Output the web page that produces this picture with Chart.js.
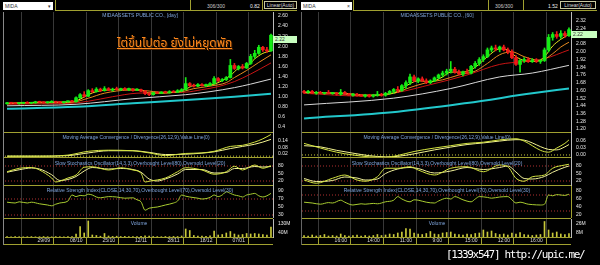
<!DOCTYPE html>
<html>
<head>
<meta charset="utf-8">
<script src="https://cdn.jsdelivr.net/npm/chart.js@4.4.0/dist/chart.umd.min.js"></script>
<style>
body { margin:0; background:#000; width:600px; height:265px; overflow:hidden; position:relative; font-family:'Liberation Sans', Arial, sans-serif; }
canvas { position:absolute; }
.ln { position:absolute; background:#a0a030; }
.t { position:absolute; white-space:nowrap; font-size:5px; line-height:6px; }
.ttl { position:absolute; white-space:nowrap; font-size:5px; line-height:6px; color:#7ea4dc; transform:translateX(-50%); }
.dd { position:absolute; top:2px; height:8px; background:#fff; color:#333; font-size:5px; line-height:8px; padding-left:2px; box-sizing:border-box; }
.box { position:absolute; top:1px; height:8px; border:1px solid #c8c8a0; color:#ddd; font-size:5px; line-height:7px; text-align:center; box-sizing:border-box; }
.px { position:absolute; background:#c8ffc0; color:#333; font-size:5px; line-height:6px; padding-left:2px; box-sizing:border-box; }
</style>
</head>
<body>

<!-- header left -->
<div class="dd" style="left:3px;width:50px">MIDA<span style="position:absolute;right:2px">&#9662;</span></div>
<div class="ln" style="left:55px;top:10px;width:242px;height:1px"></div>
<div class="ln" style="left:55px;top:0;width:1px;height:10px"></div>
<div class="ln" style="left:190px;top:0;width:1px;height:10px"></div>
<div class="ln" style="left:262px;top:0;width:1px;height:10px"></div>
<div class="t" style="left:207px;top:3px;color:#ccc">306/300</div>
<div class="t" style="left:250px;top:3px;color:#eee">0.82</div>
<div class="box" style="left:264px;width:33px">Linear(Auto)</div>

<!-- header right -->
<div class="dd" style="left:301px;width:51px">MIDA<span style="position:absolute;right:2px">&#215;</span></div>
<div class="ln" style="left:353px;top:10px;width:244px;height:1px"></div>
<div class="ln" style="left:353px;top:0;width:1px;height:10px"></div>
<div class="ln" style="left:488px;top:0;width:1px;height:10px"></div>
<div class="ln" style="left:523px;top:0;width:1px;height:10px"></div>
<div class="t" style="left:495px;top:3px;color:#ccc">306/300</div>
<div class="t" style="left:548px;top:3px;color:#eee">1.52</div>
<div class="box" style="left:560px;width:36px">Linear(Auto)</div>

<!-- left panel -->
<canvas id="mainL" width="292" height="120" style="left:5px;top:12px"></canvas>
<canvas id="macdL" width="292" height="26" style="left:5px;top:132px"></canvas>
<canvas id="stochL" width="292" height="28" style="left:5px;top:158px"></canvas>
<canvas id="rsiL" width="292" height="32" style="left:5px;top:186px"></canvas>
<canvas id="volL" width="292" height="26" style="left:5px;top:219px"></canvas>

<!-- right panel -->
<canvas id="mainR" width="295" height="120" style="left:302px;top:12px"></canvas>
<canvas id="macdR" width="295" height="26" style="left:302px;top:132px"></canvas>
<canvas id="stochR" width="295" height="28" style="left:302px;top:158px"></canvas>
<canvas id="rsiR" width="295" height="32" style="left:302px;top:186px"></canvas>
<canvas id="volR" width="295" height="26" style="left:302px;top:219px"></canvas>

<!-- panel separators -->
<div class="ln" style="left:3px;top:132px;width:270px;height:1px"></div>
<div class="ln" style="left:3px;top:157px;width:270px;height:1px"></div>
<div class="ln" style="left:3px;top:185px;width:270px;height:1px"></div>
<div class="ln" style="left:3px;top:218px;width:270px;height:1px"></div>
<div class="ln" style="left:3px;top:244px;width:270px;height:1px"></div>
<div class="ln" style="left:301px;top:132px;width:270px;height:1px"></div>
<div class="ln" style="left:301px;top:157px;width:270px;height:1px"></div>
<div class="ln" style="left:301px;top:185px;width:270px;height:1px"></div>
<div class="ln" style="left:301px;top:218px;width:270px;height:1px"></div>
<div class="ln" style="left:301px;top:244px;width:270px;height:1px"></div>
<div class="ln" style="left:571px;top:186px;width:1px;height:32px"></div>
<div style="position:absolute;left:3px;top:12px;width:1px;height:233px;background:#888"></div>
<div style="position:absolute;left:301px;top:12px;width:1px;height:233px;background:#666"></div>

<!-- titles -->
<div class="ttl" style="left:140px;top:12px">MIDAASSETS PUBLIC CO., [day]</div>
<div class="ttl" style="left:136px;top:134px">Moving Average Convergence / Divergence(26,12,9),Value Line(0)</div>
<div class="ttl" style="left:140px;top:160px">Slow Stochastics Oscillator(14,3,3),Overbought Level(80),Oversold Level(20)</div>
<div class="ttl" style="left:140px;top:187px">Relative Strength Index(CLOSE,14,30,70),Overbought Level(70),Oversold Level(30)</div>
<div class="ttl" style="left:139px;top:220px">Volume</div>
<div class="ttl" style="left:437px;top:12px">MIDAASSETS PUBLIC CO., [60]</div>
<div class="ttl" style="left:437px;top:134px">Moving Average Convergence / Divergence(26,12,9),Value Line(0)</div>
<div class="ttl" style="left:437px;top:160px">Slow Stochastics Oscillator(14,3,3),Overbought Level(80),Oversold Level(20)</div>
<div class="ttl" style="left:437px;top:187px">Relative Strength Index(CLOSE,14,30,70),Overbought Level(70),Oversold Level(30)</div>
<div class="ttl" style="left:437px;top:220px">Volume</div>

<div class="px" style="left:273px;top:36px;width:24px;height:7px">2.22</div>
<div class="px" style="left:571px;top:31px;width:26px;height:7px">2.22</div>

<div style="position:absolute;left:117px;top:35px;font-size:12px;line-height:16px;color:#ff8a1c;text-decoration:underline;text-shadow:1px 1px 0 #4a2000;white-space:nowrap;font-family:'Noto Sans Thai','Loma','Garuda','Tlwg Typist','DejaVu Sans',sans-serif">ไต่ขึ้นไปต่อ ยังไม่หยุดพัก</div>

<div style="position:absolute;left:446px;top:248px;font-size:11px;line-height:14px;color:#fff;letter-spacing:-1.3px;white-space:nowrap;font-family:'DejaVu Sans Mono',monospace">[1339x547] http://upic.me/</div>

<script>
// Daily candles (left)
var openL  = [0.86,0.88,0.87,0.86,0.87,0.88,0.87,0.88,0.90,0.89, 0.88,0.89,0.90,0.89,0.88,0.90,0.91,0.90,0.98,1.04, 1.01,1.12,1.10,1.15,1.12,1.16,1.13,1.15,1.14,1.16, 1.14,1.15,1.13,1.14,1.11,1.06,1.04,1.08,1.07,1.09, 1.08,1.10,1.09,1.12,1.14,1.26,1.22,1.21,1.24,1.22, 1.23,1.26,1.36,1.32,1.34,1.38,1.62,1.56,1.60,1.57, 1.66,1.80,1.86,1.98,1.93,1.91];
var highL  = [0.89,0.89,0.88,0.88,0.89,0.90,0.88,0.91,0.91,0.90, 0.90,0.92,0.91,0.90,0.91,0.92,0.93,1.00,1.06,1.10, 1.14,1.16,1.18,1.17,1.20,1.18,1.17,1.19,1.17,1.18, 1.17,1.16,1.16,1.15,1.12,1.08,1.09,1.10,1.10,1.11, 1.12,1.12,1.14,1.16,1.38,1.28,1.25,1.26,1.26,1.25, 1.28,1.40,1.38,1.36,1.40,1.74,1.66,1.62,1.64,1.68, 1.84,1.92,2.02,2.00,1.98,2.24];
var lowL   = [0.85,0.86,0.86,0.85,0.86,0.87,0.86,0.87,0.88,0.87, 0.87,0.88,0.88,0.87,0.87,0.89,0.89,0.89,0.96,0.99, 1.00,1.08,1.09,1.10,1.11,1.12,1.11,1.13,1.12,1.13, 1.12,1.11,1.12,1.10,1.04,1.02,1.03,1.06,1.06,1.07, 1.07,1.08,1.08,1.10,1.13,1.20,1.19,1.20,1.21,1.20, 1.22,1.25,1.30,1.30,1.32,1.37,1.54,1.53,1.55,1.56, 1.64,1.76,1.84,1.90,1.88,1.90];
var closeL = [0.88,0.87,0.86,0.87,0.88,0.87,0.88,0.90,0.89,0.88, 0.89,0.90,0.89,0.88,0.90,0.91,0.90,0.98,1.04,1.01, 1.12,1.10,1.15,1.12,1.16,1.13,1.15,1.14,1.16,1.14, 1.15,1.13,1.14,1.11,1.06,1.04,1.08,1.07,1.09,1.08, 1.10,1.09,1.12,1.14,1.26,1.22,1.21,1.24,1.22,1.23, 1.26,1.36,1.32,1.34,1.38,1.62,1.56,1.60,1.57,1.66, 1.80,1.86,1.98,1.93,1.91,2.22];
var volL   = [3,2,4,3,2,3,4,2,3,5, 3,2,4,3,2,4,3,30,103,40, 160,20,15,8,35,10,6,8,5,6, 4,5,4,6,12,8,5,4,3,5, 4,6,5,10,80,65,15,8,10,6, 12,60,20,25,40,55,30,20,25,35, 30,35,30,25,20,100];

// Daily averages / indicators, [candle index, value]
var maYellowL = [[0,0.87],[8,0.89],[16,0.90],[18,0.95],[20,1.04],[22,1.10],[26,1.14],[30,1.15],[33,1.13],[35,1.07],[38,1.07],[42,1.10],[44,1.15],[46,1.22],[50,1.23],[53,1.32],[55,1.42],[57,1.56],[59,1.60],[61,1.75],[63,1.86],[65,1.91]];
var maOrangeL = [[0,0.86],[8,0.88],[16,0.89],[20,0.97],[24,1.07],[30,1.13],[34,1.12],[38,1.09],[42,1.09],[46,1.16],[50,1.21],[54,1.28],[56,1.38],[59,1.52],[62,1.68],[65,1.83]];
var maRedL    = [[0,0.85],[10,0.86],[16,0.87],[20,0.91],[26,1.00],[32,1.07],[38,1.08],[44,1.09],[48,1.14],[52,1.20],[56,1.30],[60,1.45],[65,1.67]];
var maWhiteL  = [[0,0.82],[17,0.85],[31,0.96],[44,1.04],[50,1.10],[56,1.18],[60,1.25],[65,1.35]];
var maCyanL   = [[0,0.76],[17,0.80],[31,0.87],[47,0.95],[56,1.00],[65,1.06]];
var macdL   = [[0,0.0],[8,0.0],[15,0.01],[20,0.045],[25,0.055],[31,0.05],[35,0.03],[39,0.005],[44,0.025],[48,0.03],[51,0.045],[55,0.09],[58,0.10],[61,0.13],[63,0.16],[65,0.20]];
var signalL = [[0,0.0],[8,0.0],[15,0.005],[20,0.03],[25,0.05],[31,0.05],[35,0.035],[39,0.015],[44,0.018],[48,0.028],[51,0.04],[55,0.07],[58,0.09],[61,0.11],[63,0.13],[65,0.155]];
var stochKL = [[0,57],[3,71],[6,74],[8,64],[11,32],[12,16],[15,32],[17,44],[19,75],[21,77],[25,64],[28,73],[31,64],[33,51],[34,16],[35,19],[39,32],[42,57],[44,73],[48,64],[51,47],[54,57],[56,79],[58,64],[61,84],[63,71],[65,81]];
var stochDL = [[0,55],[3,65],[6,72],[8,68],[11,45],[13,22],[15,26],[17,38],[19,60],[21,74],[25,68],[28,70],[31,66],[33,55],[35,28],[37,20],[39,28],[42,48],[44,66],[48,66],[51,52],[54,54],[56,70],[58,70],[61,78],[63,76],[65,78]];
var rsiL = [[0,62],[2,60],[3,63],[5,60],[6,62],[8,58],[10,55],[11,53],[12,57],[13,60],[15,65],[16,80],[17,76],[18,79],[19,78],[20,82],[21,80],[22,75],[23,73],[25,76],[27,75],[29,72],[31,73],[32,68],[33,63],[34,42],[35,47],[37,50],[39,55],[41,60],[42,65],[43,80],[44,77],[45,75],[47,72],[48,70],[50,74],[51,80],[52,76],[53,80],[54,88],[55,84],[56,80],[57,78],[58,75],[59,80],[60,82],[61,84],[62,78],[63,75],[64,78],[65,84]];

// 60 minute candles (right)
var openR  = [1.59,1.58,1.59,1.57,1.58,1.57,1.58,1.57,1.57,1.56, 1.58,1.56,1.55,1.56,1.55,1.54,1.55,1.54,1.55,1.56, 1.55,1.57,1.59,1.61,1.60,1.65,1.68,1.74,1.70,1.72, 1.70,1.68,1.70,1.73,1.76,1.78,1.80,1.82,1.79,1.77, 1.79,1.78,1.85,1.88,1.92,1.95,2.02,2.04,2.03,2.05, 2.02,2.00,1.94,1.87,1.91,1.92,1.90,1.91,1.90,1.91, 2.02,2.15,2.18,2.16,2.19,2.17];
var highR  = [1.60,1.60,1.60,1.59,1.59,1.58,1.60,1.58,1.58,1.61, 1.59,1.57,1.57,1.57,1.56,1.56,1.56,1.56,1.59,1.57, 1.58,1.60,1.62,1.64,1.66,1.70,1.77,1.76,1.73,1.74, 1.72,1.71,1.74,1.77,1.80,1.82,1.90,1.84,1.81,1.80, 1.82,1.86,1.90,1.94,1.97,2.04,2.06,2.07,2.06,2.07, 2.04,2.02,1.96,1.92,1.94,1.94,1.93,1.93,1.92,2.04, 2.18,2.20,2.21,2.22,2.21,2.25];
var lowR   = [1.57,1.57,1.57,1.56,1.57,1.56,1.57,1.56,1.55,1.55, 1.56,1.55,1.54,1.54,1.54,1.53,1.53,1.53,1.54,1.54, 1.54,1.56,1.57,1.58,1.59,1.62,1.66,1.69,1.68,1.69, 1.67,1.67,1.69,1.72,1.74,1.76,1.78,1.78,1.76,1.75, 1.77,1.77,1.83,1.86,1.90,1.94,2.00,2.01,2.00,2.01, 1.98,1.93,1.86,1.79,1.89,1.89,1.89,1.89,1.88,1.90, 2.00,2.12,2.14,2.14,2.15,2.16];
var closeR = [1.58,1.59,1.57,1.58,1.57,1.58,1.57,1.57,1.56,1.58, 1.56,1.55,1.56,1.55,1.54,1.55,1.54,1.55,1.56,1.55, 1.57,1.59,1.61,1.60,1.65,1.68,1.74,1.70,1.72,1.70, 1.68,1.70,1.73,1.76,1.78,1.80,1.82,1.79,1.77,1.79, 1.78,1.85,1.88,1.92,1.95,2.02,2.04,2.03,2.05,2.02, 2.00,1.94,1.87,1.91,1.92,1.90,1.91,1.90,1.91,2.02, 2.15,2.18,2.16,2.19,2.17,2.23];
var volR   = [3,2,4,2,3,5,2,3,2,6, 3,2,3,4,2,3,2,3,5,3, 4,6,5,8,10,17,16,8,6,5, 7,11,6,5,8,9,10,6,5,4, 6,5,7,8,14,10,12,7,5,6, 4,8,6,9,5,4,3,4,5,31, 14,8,10,6,5,7];

var maYellowR = [[0,1.58],[8,1.57],[14,1.55],[20,1.56],[23,1.59],[26,1.67],[28,1.70],[31,1.69],[34,1.74],[36,1.79],[39,1.79],[42,1.84],[45,1.95],[48,2.03],[50,2.02],[52,1.95],[54,1.91],[57,1.90],[59,1.95],[61,2.06],[63,2.13],[65,2.18]];
var maOrangeR = [[0,1.58],[10,1.57],[16,1.55],[22,1.57],[26,1.63],[30,1.68],[34,1.71],[38,1.76],[42,1.80],[45,1.88],[48,1.97],[51,2.00],[54,1.95],[58,1.91],[61,1.98],[63,2.05],[65,2.10]];
var maRedR    = [[0,1.57],[15,1.54],[23,1.58],[31,1.66],[40,1.76],[48,1.87],[54,1.90],[59,1.93],[65,2.02]];
var maWhiteR  = [[0,1.45],[22,1.52],[36,1.62],[48,1.74],[56,1.78],[65,1.86]];
var maCyanR   = [[0,1.31],[23,1.38],[40,1.47],[56,1.57],[65,1.62]];
var macdR   = [[0,0.05],[4,0.03],[8,0.012],[12,0.0],[16,-0.008],[20,-0.01],[23,-0.002],[27,0.015],[32,0.03],[36,0.04],[40,0.05],[44,0.055],[48,0.065],[52,0.07],[54,0.06],[56,0.04],[58,0.02],[60,0.012],[62,0.03],[64,0.05],[65,0.065]];
var signalR = [[0,0.04],[4,0.035],[8,0.02],[12,0.008],[16,-0.003],[20,-0.008],[23,-0.006],[27,0.005],[32,0.022],[36,0.034],[40,0.045],[44,0.052],[48,0.06],[52,0.066],[54,0.064],[56,0.052],[58,0.036],[60,0.024],[62,0.022],[64,0.035],[65,0.045]];
var stochKR = [[0,24],[3,11],[7,31],[10,44],[13,24],[15,19],[18,37],[20,71],[23,71],[26,77],[28,64],[32,44],[36,71],[40,77],[44,57],[48,84],[50,77],[52,31],[54,19],[56,37],[59,44],[61,71],[64,84],[65,87]];
var stochDR = [[0,30],[3,18],[7,22],[10,36],[13,32],[15,24],[18,28],[20,50],[23,68],[26,74],[28,70],[32,52],[36,60],[40,74],[44,66],[48,74],[50,80],[52,56],[54,30],[56,28],[59,38],[61,55],[64,75],[65,80]];
var rsiR = [[0,52],[2,50],[4,47],[6,51],[7,50],[9,57],[10,52],[12,45],[14,48],[15,47],[17,49],[18,48],[20,53],[22,57],[23,66],[24,60],[26,53],[27,58],[28,57],[30,52],[32,50],[33,55],[35,62],[36,60],[37,66],[39,58],[41,53],[42,60],[43,66],[45,64],[46,62],[48,65],[50,66],[51,58],[52,50],[53,52],[55,47],[56,46],[58,45],[59,47],[60,70],[61,68],[62,71],[63,70],[64,69],[65,72]];

// Axes
var gridPos = [7.5, 15.5, 23.5, 31.5, 39.5, 47.5, 55.5, 63.5];
var datesL = ['29/09', '08/10', '25/10', '12/11', '28/11', '18/12', '07/01', ''];
var timesR = ['16:00', '14:00', '11:00', '9:00', '15:00', '12:00', '16:00', ''];
var priceTicksL = [2.6, 2.4, 2.2, 2.0, 1.8, 1.6, 1.4, 1.2, 1.0, 0.8, 0.6, 0.4];
var priceLabelsL = ['2.60', '2.40', '2.20', '2.00', '1.80', '1.60', '1.40', '1.20', '1.00', '0.80', '0.6', '0.4'];
var priceTicksR = [2.32, 2.24, 2.16, 2.08, 2.00, 1.92, 1.84, 1.76, 1.68, 1.60, 1.52, 1.44, 1.36, 1.28, 1.20];
var priceLabelsR = ['2.32', '2.24', '2.16', '2.08', '2.00', '1.92', '1.84', '1.76', '1.68', '1.60', '1.52', '1.44', '1.36', '1.28', '1.20'];
var macdTicksL = [0.14, 0.08, 0.02], macdLabelsL = ['0.14', '0.08', '0.02'];
var macdTicksR = [0.06, 0.03, 0.00], macdLabelsR = ['0.06', '0.03', '0.00'];
var stochTicks = [80, 50, 20], stochLabels = ['80', '50', '20'];
var rsiTicksL = [90, 70, 50, 30], rsiLabelsL = ['90', '70', '50', '30'];
var rsiTicksR = [80, 60, 40, 20], rsiLabelsR = ['80', '60', '40', '20'];
var volTicksL = [130, 40], volLabelsL = ['130M', '40M'];
var volTicksR = [26, 8], volLabelsR = ['26M', '8M'];
var stochLevels = [80, 20], rsiLevels = [70, 30];

var xMin = -0.5, xMax = closeL.length - 0.5;
var olive = '#a0a030';

function xAxis(labels) {
  var show = !!labels;
  return {
    type: 'linear', min: xMin, max: xMax, offset: false,
    afterBuildTicks: function (s) { s.ticks = gridPos.map(function (v) { return { value: v }; }); },
    afterFit: function (s) { s.height = show ? 8 : 0; s.paddingLeft = 0; s.paddingRight = 0; },
    grid: { color: '#383838', drawTicks: show, tickLength: 8, tickColor: olive },
    border: { display: show, color: olive },
    ticks: { display: show, align: 'start', padding: -7, autoSkip: false, maxRotation: 0, color: '#d8d8d8', font: { size: 5 },
      callback: function (v, i) { return labels ? labels[i] : ''; } }
  };
}

function yAxis(min, max, vals, labels, w) {
  return {
    position: 'right', min: min, max: max,
    afterBuildTicks: function (s) { s.ticks = vals.map(function (v) { return { value: v }; }); },
    afterFit: function (s) { s.width = w; s.paddingTop = 0; s.paddingBottom = 0; },
    grid: { display: false, drawTicks: false },
    border: { display: true, color: '#bbbbbb', dash: [1, 2] },
    ticks: { padding: 5, autoSkip: false, color: '#e8e8e8', font: { size: 5 },
      callback: function (v, i) { return labels[i]; } }
  };
}

function candleSets(o, h, l, c) {
  var cols = c.map(function (v, i) { return v >= o[i] ? '#14ec14' : '#f01818'; });
  return [
    { data: o.map(function (v, i) { return { x: i, y: [v, c[i]] }; }), backgroundColor: cols, barThickness: 3, minBarLength: 1, grouped: false },
    { data: l.map(function (v, i) { return { x: i, y: [v, h[i]] }; }), backgroundColor: cols, barThickness: 1, minBarLength: 1, grouped: false }
  ];
}

function lineSet(pts, color, w) {
  return { type: 'line', data: pts.map(function (p) { return { x: p[0], y: p[1] }; }),
    borderColor: color, borderWidth: w || 1, pointRadius: 0, cubicInterpolationMode: 'monotone' };
}

function levelSet(v, color) {
  return { type: 'line', data: [{ x: xMin, y: v }, { x: xMax, y: v }], borderColor: color, borderWidth: 1, borderDash: [1, 2], pointRadius: 0 };
}

function volSet(v) {
  return { data: v.map(function (y, i) { return { x: i, y: y }; }), backgroundColor: '#c8c83a', barThickness: 1, grouped: false };
}

function panel(id, datasets, y, dates) {
  return new Chart(document.getElementById(id).getContext('2d'), {
    type: 'bar',
    data: { datasets: datasets },
    options: {
      responsive: false, animation: false, devicePixelRatio: 1, events: [],
      layout: { padding: 0 },
      plugins: { legend: { display: false }, tooltip: { enabled: false } },
      scales: { x: xAxis(dates), y: y }
    }
  });
}

// Chart day (left)
panel('mainL', candleSets(openL, highL, lowL, closeL).concat([
  lineSet(maYellowL, '#e8e820'), lineSet(maOrangeL, '#e88a20'), lineSet(maRedL, '#c81414'),
  lineSet(maWhiteL, '#d8d8d8'), lineSet(maCyanL, '#22c8cc', 2)
]), yAxis(0.30, 2.68, priceTicksL, priceLabelsL, 24));
panel('macdL', [lineSet(macdL, '#d4e440'), lineSet(signalL, '#f4f490'), levelSet(0, '#c8c83a')],
  yAxis(-0.017, 0.223, macdTicksL, macdLabelsL, 24));
panel('stochL', [lineSet(stochKL, '#d4e440'), lineSet(stochDL, '#f0f09a'),
  levelSet(stochLevels[0], '#b03030'), levelSet(stochLevels[1], '#b03030')],
  yAxis(0, 112, stochTicks, stochLabels, 24));
panel('rsiL', [lineSet(rsiL, '#a8cc30'), levelSet(rsiLevels[0], '#b03030'), levelSet(rsiLevels[1], '#b03030')],
  yAxis(22.5, 102.5, rsiTicksL, rsiLabelsL, 24));
panel('volL', [volSet(volL)], yAxis(0, 180, volTicksL, volLabelsL, 24), datesL);

// Chart 60 minute (right)
panel('mainR', candleSets(openR, highR, lowR, closeR).concat([
  lineSet(maYellowR, '#e8e820'), lineSet(maOrangeR, '#e88a20'), lineSet(maRedR, '#c81414'),
  lineSet(maWhiteR, '#d8d8d8'), lineSet(maCyanR, '#22c8cc', 2)
]), yAxis(1.169, 2.413, priceTicksR, priceLabelsR, 26));
panel('macdR', [lineSet(macdR, '#d4e440'), lineSet(signalR, '#f4f490'), levelSet(0, '#c8c83a')],
  yAxis(-0.013, 0.099, macdTicksR, macdLabelsR, 26));
panel('stochR', [lineSet(stochKR, '#d4e440'), lineSet(stochDR, '#f0f09a'),
  levelSet(stochLevels[0], '#b03030'), levelSet(stochLevels[1], '#b03030')],
  yAxis(0, 112, stochTicks, stochLabels, 26));
panel('rsiR', [lineSet(rsiR, '#a8cc30'), levelSet(rsiLevels[0], '#b03030'), levelSet(rsiLevels[1], '#b03030')],
  yAxis(12.5, 92.5, rsiTicksR, rsiLabelsR, 26));
panel('volR', [volSet(volR)], yAxis(0, 36, volTicksR, volLabelsR, 26), timesR);
</script>
</body>
</html>
